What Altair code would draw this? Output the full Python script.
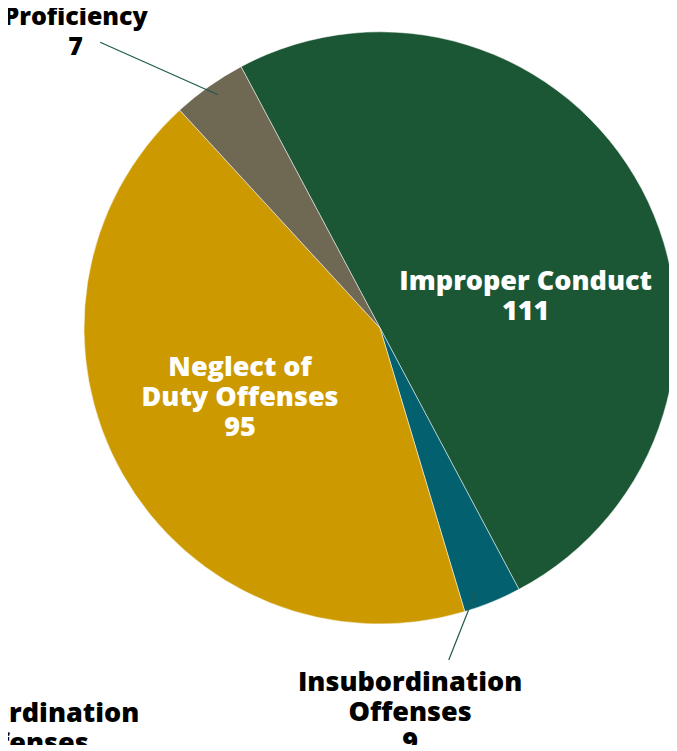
import math
import altair as alt
import pandas as pd

# ---- data ----
categories = ["Improper Conduct", "Insubordination Offenses", "Neglect of Duty Offenses", "Proficiency"]
# slice sizes as they are drawn (the two small slices are drawn ~7 and ~9)
slice_values = [111, 7, 95, 9]
# label texts as printed on the chart
label_names = ["Improper Conduct", "Insubordination\nOffenses", "Neglect of\nDuty Offenses", "Proficiency"]
label_numbers = ["111", "9", "95", "7"]
colors = ["#1B5734", "#02606F", "#CC9900", "#6F6954"]

df = pd.DataFrame({
    "cat": categories,
    "value": slice_values,
    "idx": list(range(len(categories))),
    "label": [f"{n}\n{v}" for n, v in zip(label_names, label_numbers)],
})

# ---- layout ----
CX, CY = 372, 320
R = 296
START = math.radians(-28.0)
FONT = "Open Sans"

theta = alt.Theta("value:Q", stack=True,
                  scale=alt.Scale(range=[START, START + 2 * math.pi]))
order = alt.Order("idx:Q")

pie = alt.Chart(df).mark_arc(
    x=CX, y=CY, outerRadius=R, stroke="white", strokeWidth=0.5
).encode(
    theta=theta,
    color=alt.Color("cat:N", scale=alt.Scale(domain=categories, range=colors), legend=None),
    order=order,
)


def label_layer(cat, radius, dx, dy, color, size=27):
    return alt.Chart(df).transform_calculate(
        t=f"datum.cat == '{cat}' ? datum.label : ''"
    ).mark_text(
        x=CX, y=CY, radius=radius, dx=dx, dy=dy,
        font=FONT, fontSize=size, fontWeight=800, color=color,
        align="center", baseline="alphabetic", lineBreak="\n", lineHeight=30,
    ).encode(theta=theta, order=order, text="t:N")


labels = [
    label_layer("Improper Conduct", 165, 0, 39.5, "white"),
    label_layer("Neglect of Duty Offenses", 161, 0, -31.5, "white"),
    label_layer("Proficiency", 371, -90, 0, "black", size=25),
    label_layer("Insubordination Offenses", 392, -118.8, 0, "black"),
    label_layer("Insubordination Offenses", 426, -514.7, 0, "black"),
]


def polar(r, deg):
    a = math.radians(deg)
    return CX + r * math.sin(a), CY - r * math.cos(a)


def leader(r1, a1, r2, a2):
    x1, y1 = polar(r1, a1)
    x2, y2 = polar(r2, a2)
    return alt.Chart(pd.DataFrame({"k": [0]})).mark_rule(
        color="#1E5A4C", strokeWidth=1.2
    ).encode(x=alt.value(x1), x2=alt.value(x2), y=alt.value(y1), y2=alt.value(y2))


leaders = [
    leader(284, -34.8, 400, -44.4),
    leader(282, 160.3, 339, 168.3),
]

chart = alt.layer(pie, *leaders, *labels).properties(
    width=661, height=737, padding=0,
    autosize=alt.AutoSizeParams(type="none"),
).configure_view(stroke=None)

chart.save("out.html", embed_options={"renderer": "svg", "actions": False})
